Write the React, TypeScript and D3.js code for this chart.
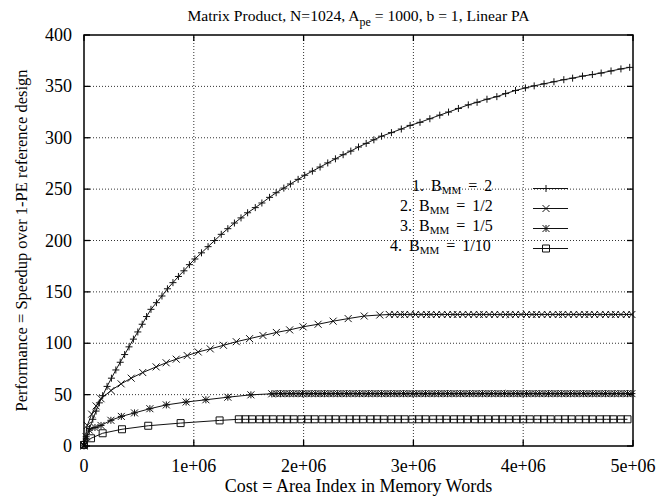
import * as d3 from 'd3';

// chart size, matches the reference picture
const W = 669;
const H = 498;
const margin = { top: 35, right: 36, bottom: 52, left: 84 };

const xTicks = [0, 1e6, 2e6, 3e6, 4e6, 5e6];
const xTickLabels = ['0', '1e+06', '2e+06', '3e+06', '4e+06', '5e+06'];
const yTicks = [0, 50, 100, 150, 200, 250, 300, 350, 400];

// cost in millions of memory words, speedup
const curveB2: [number, number][] = [
  [0, 0], [0.02, 7], [0.05, 17], [0.08, 26], [0.11, 34], [0.14, 42], [0.17, 49], [0.21, 58], [0.25, 66], [0.29, 74],
  [0.33, 81.5], [0.37, 89], [0.41, 96.5], [0.45, 104], [0.49, 111], [0.53, 118.5], [0.57, 126], [0.61, 133],
  [0.66, 139.5], [0.71, 146], [0.76, 153], [0.81, 159], [0.86, 165], [0.91, 170.5], [0.96, 176.5], [1.01, 182],
  [1.07, 188], [1.13, 194], [1.19, 200], [1.25, 206], [1.31, 211.5], [1.37, 217], [1.43, 222],
  [1.49, 227], [1.56, 232], [1.62, 236.5], [1.69, 242], [1.75, 246.5], [1.82, 251], [1.88, 255], [1.95, 259.5], [2.01, 263.5],
  [2.08, 267.5], [2.15, 271.5], [2.22, 275.5], [2.29, 279.5], [2.36, 283.5], [2.43, 287], [2.5, 291], [2.57, 294.5], [2.64, 298], [2.71, 301.5],
  [2.8, 305], [2.89, 308.5], [2.97, 312], [3.06, 315], [3.15, 318.5], [3.24, 322], [3.32, 325], [3.41, 328.5], [3.5, 332],
  [3.58, 334.5], [3.67, 337.5], [3.76, 340], [3.84, 343], [3.93, 346], [4.02, 348.5], [4.1, 350.5], [4.19, 352.5], [4.28, 354.5],
  [4.37, 356.5], [4.45, 358], [4.54, 360], [4.63, 361.5], [4.71, 363], [4.8, 365], [4.89, 367], [4.97, 368.5],
];

const curveHalf: [number, number][] = [
  [0, 0], [0.03, 20], [0.07, 31], [0.11, 39], [0.155, 46], [0.246, 54], [0.338, 60.5], [0.43, 66], [0.535, 71.5],
  [0.657, 77], [0.748, 81], [0.84, 84.5], [0.94, 88], [1.04, 91.5], [1.15, 94.5], [1.27, 98], [1.387, 101.5],
  [1.508, 104.5], [1.63, 107.5], [1.752, 110.5], [1.873, 113], [1.995, 116], [2.132, 118.5], [2.269, 121.5],
  [2.406, 124], [2.552, 126.5], [2.694, 127.5],
];
const halfFlat = 128;
const halfFlatX = [
  2.78, 2.83, 2.88, 2.92, 2.97, 3.02, 3.07, 3.12, 3.16, 3.21, 3.26, 3.31, 3.36, 3.4, 3.45, 3.5, 3.55, 3.6, 3.64, 3.69,
  3.74, 3.79, 3.84, 3.88, 3.93, 3.98, 4.03, 4.08, 4.12, 4.17, 4.22, 4.27, 4.32, 4.36, 4.41, 4.46, 4.51, 4.56, 4.6, 4.65,
  4.7, 4.75, 4.8, 4.84, 4.89, 4.94, 4.99,
];

const curveFifth: [number, number][] = [
  [0, 1], [0.02, 9], [0.048, 15.5], [0.1, 18], [0.155, 20], [0.245, 25], [0.34, 28.8], [0.46, 32.2], [0.6, 36.3],
  [0.75, 40], [0.93, 42.8], [1.11, 45], [1.31, 47.5], [1.52, 49.8], [1.71, 50.8],
];
const fifthFlat = 51;
const fifthFlatX = [
  1.75, 1.79, 1.83, 1.87, 1.91, 1.95, 1.99, 2.03, 2.07, 2.11, 2.15, 2.19, 2.23, 2.27, 2.31, 2.35, 2.39, 2.43, 2.47, 2.51,
  2.55, 2.59, 2.63, 2.67, 2.71, 2.75, 2.79, 2.83, 2.87, 2.91, 2.95, 2.99, 3.03, 3.07, 3.11, 3.15, 3.19, 3.23, 3.27, 3.31,
  3.35, 3.39, 3.43, 3.47, 3.51, 3.55, 3.59, 3.63, 3.67, 3.71, 3.75, 3.79, 3.83, 3.87, 3.91, 3.95, 3.99, 4.03, 4.07, 4.11,
  4.15, 4.19, 4.23, 4.27, 4.31, 4.35, 4.39, 4.43, 4.47, 4.51, 4.55, 4.59, 4.63, 4.67, 4.71, 4.75, 4.79, 4.83, 4.87, 4.91,
  4.95, 4.99,
];

const curveTenth: [number, number][] = [
  [0, 1], [0.064, 7.5], [0.17, 12.4], [0.346, 16.3], [0.585, 19.7], [0.88, 22.3], [1.235, 24.9], [1.41, 26],
];
const tenthFlat = 26;
const tenthFlatX = [
  1.47, 1.53, 1.6, 1.66, 1.72, 1.79, 1.85, 1.91, 1.98, 2.04, 2.1, 2.17, 2.23, 2.29, 2.36, 2.42, 2.48, 2.54, 2.61, 2.67,
  2.73, 2.8, 2.86, 2.92, 2.99, 3.05, 3.11, 3.18, 3.24, 3.3, 3.37, 3.43, 3.49, 3.56, 3.62, 3.68, 3.75, 3.81, 3.87, 3.94,
  4.0, 4.06, 4.13, 4.19, 4.25, 4.32, 4.38, 4.44, 4.51, 4.57, 4.63, 4.7, 4.76, 4.82, 4.89, 4.95,
];

const legendNums = ['1.', '2.', '3.', '4.'];
const legendValues = ['2', '1/2', '1/5', '1/10'];

type Pt = [number, number];
const withFlat = (rise: Pt[], xs: number[], v: number): Pt[] => rise.concat(xs.map((x) => [x, v] as Pt));

const series = [
  { pts: curveB2, mark: 'plus' },
  { pts: withFlat(curveHalf, halfFlatX, halfFlat), mark: 'cross' },
  { pts: withFlat(curveFifth, fifthFlatX, fifthFlat), mark: 'star' },
  { pts: withFlat(curveTenth, tenthFlatX, tenthFlat), mark: 'box' },
];

// gnuplot style point shapes
const r = 3.5;
const markPath: Record<string, string> = {
  plus: `M${-r},0H${r}M0,${-r}V${r}`,
  cross: `M${-r},${-r}L${r},${r}M${-r},${r}L${r},${-r}`,
  star: `M${-r},0H${r}M0,${-r}V${r}M${-r},${-r}L${r},${r}M${-r},${r}L${r},${-r}`,
  box: `M${-r},${-r}H${r}V${r}H${-r}Z`,
};

const font = "'Liberation Serif', 'DejaVu Serif', serif";

export default function App() {
  const x = d3.scaleLinear().domain([0, 5e6]).range([margin.left, W - margin.right]);
  const y = d3.scaleLinear().domain([0, 400]).range([H - margin.bottom, margin.top]);
  const x0 = x.range()[0], x1 = x.range()[1];
  const y0 = y.range()[0], y1 = y.range()[1];

  const line = d3.line<Pt>()
    .x((d) => x(d[0] * 1e6))
    .y((d) => y(d[1]));

  const tick = 6;
  const legendX0 = 533, legendX1 = 568, legendMark = 546;
  const legendTextX = [412, 400, 400, 390];
  const legendBase = [190.5, 210.5, 230.5, 250.5];

  return (
    <svg width={W} height={H} style={{ position: 'absolute', left: 0, top: 0, background: '#fff', fontFamily: font }}>
      {/* grid */}
      <g stroke="#333" strokeWidth={1} strokeDasharray="1,2">
        {yTicks.slice(1, -1).map((t) => (
          <line key={'gy' + t} x1={x0} x2={x1} y1={y(t)} y2={y(t)} />
        ))}
        {xTicks.slice(1, -1).map((t) => (
          <line key={'gx' + t} x1={x(t)} x2={x(t)} y1={y0} y2={y1} />
        ))}
      </g>

      {/* ticks on all four sides */}
      <g stroke="#000" strokeWidth={1.3}>
        {yTicks.map((t) => (
          <g key={'ty' + t}>
            <line x1={x0} x2={x0 + tick} y1={y(t)} y2={y(t)} />
            <line x1={x1} x2={x1 - tick} y1={y(t)} y2={y(t)} />
          </g>
        ))}
        {xTicks.map((t) => (
          <g key={'tx' + t}>
            <line x1={x(t)} x2={x(t)} y1={y0} y2={y0 - tick} />
            <line x1={x(t)} x2={x(t)} y1={y1} y2={y1 + tick} />
          </g>
        ))}
      </g>

      {/* tick labels */}
      <g fontSize={18} fill="#000">
        {yTicks.map((t) => (
          <text key={'ly' + t} x={x0 - 12} y={y(t) + 6} textAnchor="end">{t}</text>
        ))}
        {xTicks.map((t, i) => (
          <text key={'lx' + t} x={x(t)} y={y0 + 26} textAnchor="middle">{xTickLabels[i]}</text>
        ))}
      </g>

      {/* series */}
      {series.map((s, i) => (
        <g key={'s' + i}>
          <path d={line(s.pts) ?? ''} fill="none" stroke="#111" strokeWidth={1} />
          {s.pts.map((p, j) => (
            <path key={j} d={markPath[s.mark]} transform={`translate(${x(p[0] * 1e6)},${y(p[1])})`}
              fill="none" stroke="#111" strokeWidth={1} />
          ))}
        </g>
      ))}

      {/* legend */}
      <g fontSize={16} fill="#000" style={{ wordSpacing: '3px' }}>
        {series.map((s, i) => (
          <g key={'lg' + i}>
            <text x={legendTextX[i]} y={legendBase[i]}>
              {legendNums[i]} B<tspan fontSize={11} dy={3}>MM</tspan><tspan dy={-3}> = {legendValues[i]}</tspan>
            </text>
            <line x1={legendX0} x2={legendX1} y1={legendBase[i] - 2} y2={legendBase[i] - 2} stroke="#111" strokeWidth={1} />
            <path d={markPath[s.mark]} transform={`translate(${legendMark},${legendBase[i] - 2})`} fill="none" stroke="#111" strokeWidth={1} />
          </g>
        ))}
      </g>

      {/* frame */}
      <rect x={x0} y={y1} width={x1 - x0} height={y0 - y1} fill="none" stroke="#000" strokeWidth={1.5} />

      {/* title and axis labels */}
      <text x={(x0 + x1) / 2} y={21} textAnchor="middle" fontSize={15.6}>
        Matrix Product, N=1024, A<tspan fontSize={12} dy={5}>pe</tspan><tspan dy={-5}> = 1000, b = 1, Linear PA</tspan>
      </text>
      <text x={(x0 + x1) / 2} y={492} textAnchor="middle" fontSize={18}>Cost = Area Index in Memory Words</text>
      <text transform={`translate(27,${(y0 + y1) / 2}) rotate(-90)`} textAnchor="middle" fontSize={16.5}>
        Performance = Speedup over 1-PE reference design
      </text>
    </svg>
  );
}
